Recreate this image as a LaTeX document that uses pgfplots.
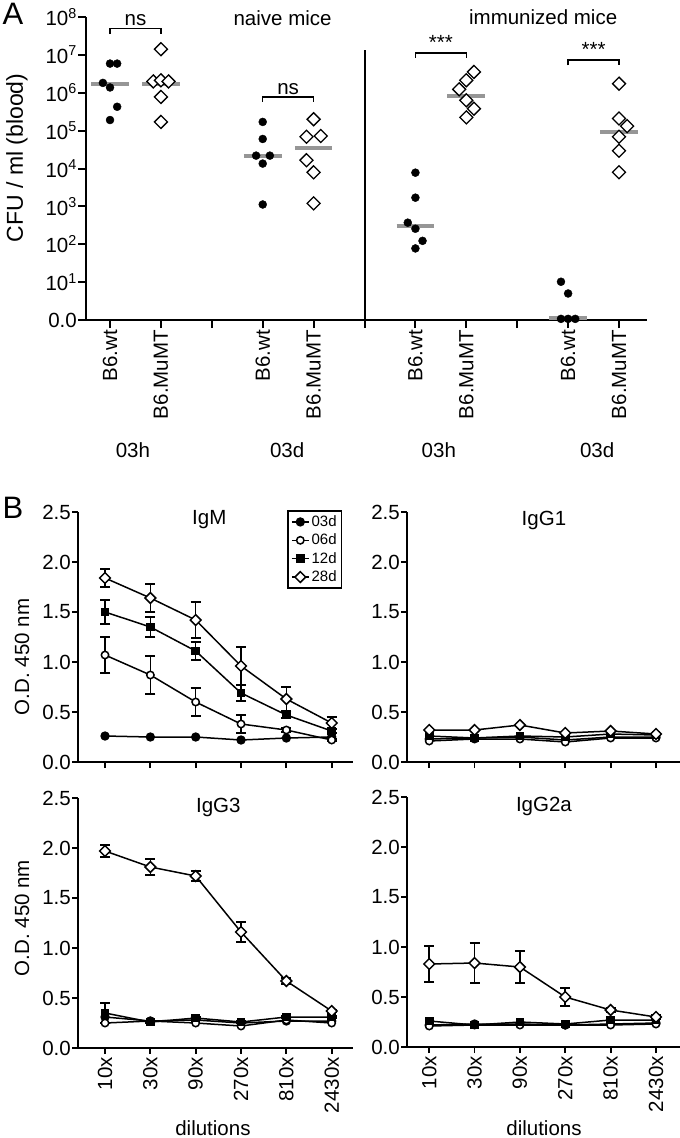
\documentclass[border=0pt]{standalone}
\usepackage{fontspec}
\setmainfont{Liberation Sans}
\usepackage{pgfplots}
\pgfplotsset{compat=1.18}
\definecolor{medgray}{RGB}{150,150,150}

\pgfplotsset{
  od/.style={
    scale only axis, height=250pt,
    ymin=0, ymax=2.5,
    axis x line*=bottom, axis y line*=left,
    axis line style={line width=2pt},
    tick style={line width=1.8pt, black},
    major tick length=6pt, tick align=outside,
    ytick={0,0.5,1,1.5,2,2.5},
    yticklabels={0.0,0.5,1.0,1.5,2.0,2.5},
    xtick={1,...,6},
    yticklabel style={inner sep=1pt},
    clip=false,
    every axis plot/.append style={line width=1.5pt, black},
  },
  xlab/.style={
    xticklabels={10x,30x,90x,270x,810x,2430x},
    x tick label style={rotate=90, anchor=east, inner sep=3pt},
  },
  ebar/.style={error bars/.cd, y dir=both, y explicit,
    error bar style={line width=1.6pt},
    error mark options={line width=1.6pt, mark size=5pt, rotate=90}},
  s03/.style={mark=*, mark size=3.9pt},
  s06/.style={mark=*, mark size=3.7pt, mark options={fill=white}},
  s12/.style={mark=square*, mark size=3.6pt},
  s28/.style={mark=square*, mark size=3.8pt, mark options={rotate=45, fill=white}},
}

\begin{document}
\begin{tikzpicture}[x=1pt, y=1pt, font=\fontsize{20.5}{23}\selectfont]
\path[use as bounding box] (0,0) rectangle (680,-1138);

\node[font=\fontsize{31}{31}\selectfont] at (13,-14) {A};
\node[font=\fontsize{31}{31}\selectfont] at (13,-508) {B};
\node[rotate=90, font=\fontsize{23}{25}\selectfont] at (17,-158) {CFU / ml (blood)};
\node[rotate=90] at (22,-657) {O.D. 450 nm};
\node[rotate=90] at (22,-918) {O.D. 450 nm};

% ---- panel A
\begin{axis}[
  at={(86pt,-320pt)}, anchor=south west,
  scale only axis, width=561pt, height=303pt,
  xmin=0.528, xmax=11.55, ymin=0, ymax=8,
  axis x line*=bottom, axis y line*=left,
  axis line style={line width=2.2pt},
  tick style={line width=2pt, black},
  major tick length=8pt, tick align=outside,
  xtick={1,...,11},
  xticklabels={B6.wt,B6.MuMT,,B6.wt,B6.MuMT,,B6.wt,B6.MuMT,,B6.wt,B6.MuMT},
  x tick label style={rotate=90, anchor=east, inner sep=2pt},
  ytick={0,...,8},
  yticklabels={0.0,10\textsuperscript{1},10\textsuperscript{2},10\textsuperscript{3},10\textsuperscript{4},10\textsuperscript{5},10\textsuperscript{6},10\textsuperscript{7},10\textsuperscript{8}},
  yticklabel style={inner sep=1pt},
  clip=false,
]
% B6.wt (filled circles)
\addplot[only marks, mark=*, mark size=4pt, black] coordinates {
(1,6.77) (1.14,6.77) (0.86,6.26) (1,6.14) (1.14,5.63) (1,5.28)
(4,5.23) (4,4.78) (3.87,4.34) (4.14,4.34) (4,4.13) (4,3.05)
(7,3.89) (7,3.23) (6.85,2.57) (7,2.41) (7.14,2.09) (7,1.89)
(9.86,1.01) (10,0.70) (9.86,0.03) (10,0.03) (10.14,0.03)
};
% B6.MuMT (open diamonds)
\addplot[only marks, mark=square*, mark size=4.6pt, mark options={rotate=45, fill=white, draw=black, line width=1.3pt}] coordinates {
(2,7.15) (1.85,6.30) (2,6.33) (2.15,6.30) (2,5.89) (2,5.23)
(5,5.30) (4.86,4.84) (5.14,4.86) (4.86,4.22) (5,3.90) (5,3.08)
(8.15,6.55) (8,6.33) (7.86,6.09) (8,5.80) (8.15,5.58) (8,5.35)
(11,6.24) (11,5.32) (11.16,5.12) (11,4.84) (11,4.47) (11,3.90)
};
% medians
\addplot[medgray, line width=4pt] coordinates {(0.63,6.23) (1.37,6.23)};
\addplot[medgray, line width=4pt] coordinates {(1.63,6.23) (2.37,6.23)};
\addplot[medgray, line width=4pt] coordinates {(3.63,4.33) (4.37,4.33)};
\addplot[medgray, line width=4pt] coordinates {(4.63,4.55) (5.37,4.55)};
\addplot[medgray, line width=4pt] coordinates {(6.63,2.48) (7.37,2.48)};
\addplot[medgray, line width=4pt] coordinates {(7.63,5.92) (8.37,5.92)};
\addplot[medgray, line width=4pt] coordinates {(9.63,0.04) (10.37,0.04)};
\addplot[medgray, line width=4pt] coordinates {(10.63,4.97) (11.37,4.97)};
% divider
\addplot[black, line width=2pt] coordinates {(6,0) (6,7.12)};
% brackets
\addplot[black, line width=1.5pt] coordinates {(1,7.55) (1,7.70) (2,7.70) (2,7.55)};
\addplot[black, line width=1.5pt] coordinates {(4,5.76) (4,5.89) (5,5.89) (5,5.76)};
\addplot[black, line width=1.5pt] coordinates {(7,6.92) (7,7.05) (8,7.05) (8,6.92)};
\addplot[black, line width=1.5pt] coordinates {(10,6.72) (10,6.86) (11,6.86) (11,6.72)};
\node[anchor=south, inner sep=2pt] at (axis cs:1.5,7.70) {ns};
\node[anchor=south, inner sep=2pt] at (axis cs:4.5,5.89) {ns};
\node[anchor=south, inner sep=3pt] at (axis cs:7.5,7.05) {***};
\node[anchor=south, inner sep=3pt] at (axis cs:10.5,6.86) {***};
\node at (axis cs:4.39,7.97) {naive mice};
\node at (axis cs:9.51,8.0) {immunized mice};
\node at (axis cs:1.45,0) [yshift=-130pt] {03h};
\node at (axis cs:4.48,0) [yshift=-130pt] {03d};
\node at (axis cs:7.46,0) [yshift=-130pt] {03h};
\node at (axis cs:10.57,0) [yshift=-130pt] {03d};
\end{axis}

% ---- IgM
\begin{axis}[od, at={(78pt,-762pt)}, anchor=south west, width=275pt,
  xmin=0.404, xmax=6.47, xticklabels={},
  legend style={at={(axis cs:5.02,2.52)}, anchor=north west,
    font=\fontsize{15}{16}\selectfont, draw=black, line width=1.5pt,
    inner sep=3pt, row sep=2pt},
  legend cell align=left]
\addplot[s03] coordinates {(1,0.26) (2,0.25) (3,0.25) (4,0.22) (5,0.24) (6,0.25)};
\addplot[s06, ebar] coordinates {(1,1.07) +- (0,0.18) (2,0.87) +- (0,0.19) (3,0.60) +- (0,0.14) (4,0.38) +- (0,0.09) (5,0.32) +- (0,0.02) (6,0.22) +- (0,0.01)};
\addplot[s12, ebar] coordinates {(1,1.50) +- (0,0.12) (2,1.35) +- (0,0.10) (3,1.11) +- (0,0.09) (4,0.69) +- (0,0.08) (5,0.47) +- (0,0.03) (6,0.31) +- (0,0.02)};
\addplot[s28, ebar] coordinates {(1,1.84) +- (0,0.09) (2,1.64) +- (0,0.14) (3,1.42) +- (0,0.18) (4,0.96) +- (0,0.19) (5,0.63) +- (0,0.12) (6,0.39) +- (0,0.06)};
\legend{03d,06d,12d,28d}
\node at (axis cs:3.3,2.42) {IgM};
\end{axis}

% ---- IgG1
\begin{axis}[od, at={(407pt,-762pt)}, anchor=south west, width=273pt,
  xmin=0.51, xmax=6.53, xticklabels={}]
\addplot[s03] coordinates {(1,0.23) (2,0.24) (3,0.25) (4,0.22) (5,0.25) (6,0.25)};
\addplot[s06] coordinates {(1,0.21) (2,0.23) (3,0.23) (4,0.20) (5,0.24) (6,0.24)};
\addplot[s12] coordinates {(1,0.26) (2,0.24) (3,0.26) (4,0.25) (5,0.28) (6,0.27)};
\addplot[s28] coordinates {(1,0.32) (2,0.32) (3,0.37) (4,0.29) (5,0.31) (6,0.28)};
\node at (axis cs:3.53,2.42) {IgG1};
\end{axis}

% ---- IgG3
\begin{axis}[od, xlab, at={(78pt,-1048pt)}, anchor=south west, width=275pt,
  xmin=0.404, xmax=6.47]
\addplot[s03] coordinates {(1,0.31) (2,0.27) (3,0.28) (4,0.25) (5,0.27) (6,0.27)};
\addplot[s06] coordinates {(1,0.25) (2,0.27) (3,0.25) (4,0.22) (5,0.28) (6,0.25)};
\addplot[s12, ebar] coordinates {(1,0.35) +- (0,0.10) (2,0.26) +- (0,0.01) (3,0.30) +- (0,0.01) (4,0.26) +- (0,0.01) (5,0.31) +- (0,0.01) (6,0.31) +- (0,0.01)};
\addplot[s28, ebar] coordinates {(1,1.97) +- (0,0.06) (2,1.81) +- (0,0.08) (3,1.72) +- (0,0.05) (4,1.16) +- (0,0.10) (5,0.67) +- (0,0.03) (6,0.37) +- (0,0.01)};
\node at (axis cs:3.5,2.41) {IgG3};
\node[anchor=south, inner sep=0pt] at (axis cs:3.38,0) [yshift=-88pt] {dilutions};
\end{axis}

% ---- IgG2a
\begin{axis}[od, xlab, at={(407pt,-1047pt)}, anchor=south west, width=273pt,
  xmin=0.51, xmax=6.53]
\addplot[s03] coordinates {(1,0.22) (2,0.23) (3,0.23) (4,0.22) (5,0.23) (6,0.24)};
\addplot[s06] coordinates {(1,0.21) (2,0.22) (3,0.22) (4,0.22) (5,0.22) (6,0.23)};
\addplot[s12] coordinates {(1,0.26) (2,0.22) (3,0.25) (4,0.23) (5,0.27) (6,0.27)};
\addplot[s28, ebar] coordinates {(1,0.83) +- (0,0.18) (2,0.84) +- (0,0.20) (3,0.80) +- (0,0.16) (4,0.50) +- (0,0.09) (5,0.37) +- (0,0.02) (6,0.30) +- (0,0.02)};
\node at (axis cs:3.53,2.41) {IgG2a};
\node[anchor=south, inner sep=0pt] at (axis cs:3.53,0) [yshift=-89pt] {dilutions};
\end{axis}
\end{tikzpicture}
\end{document}
